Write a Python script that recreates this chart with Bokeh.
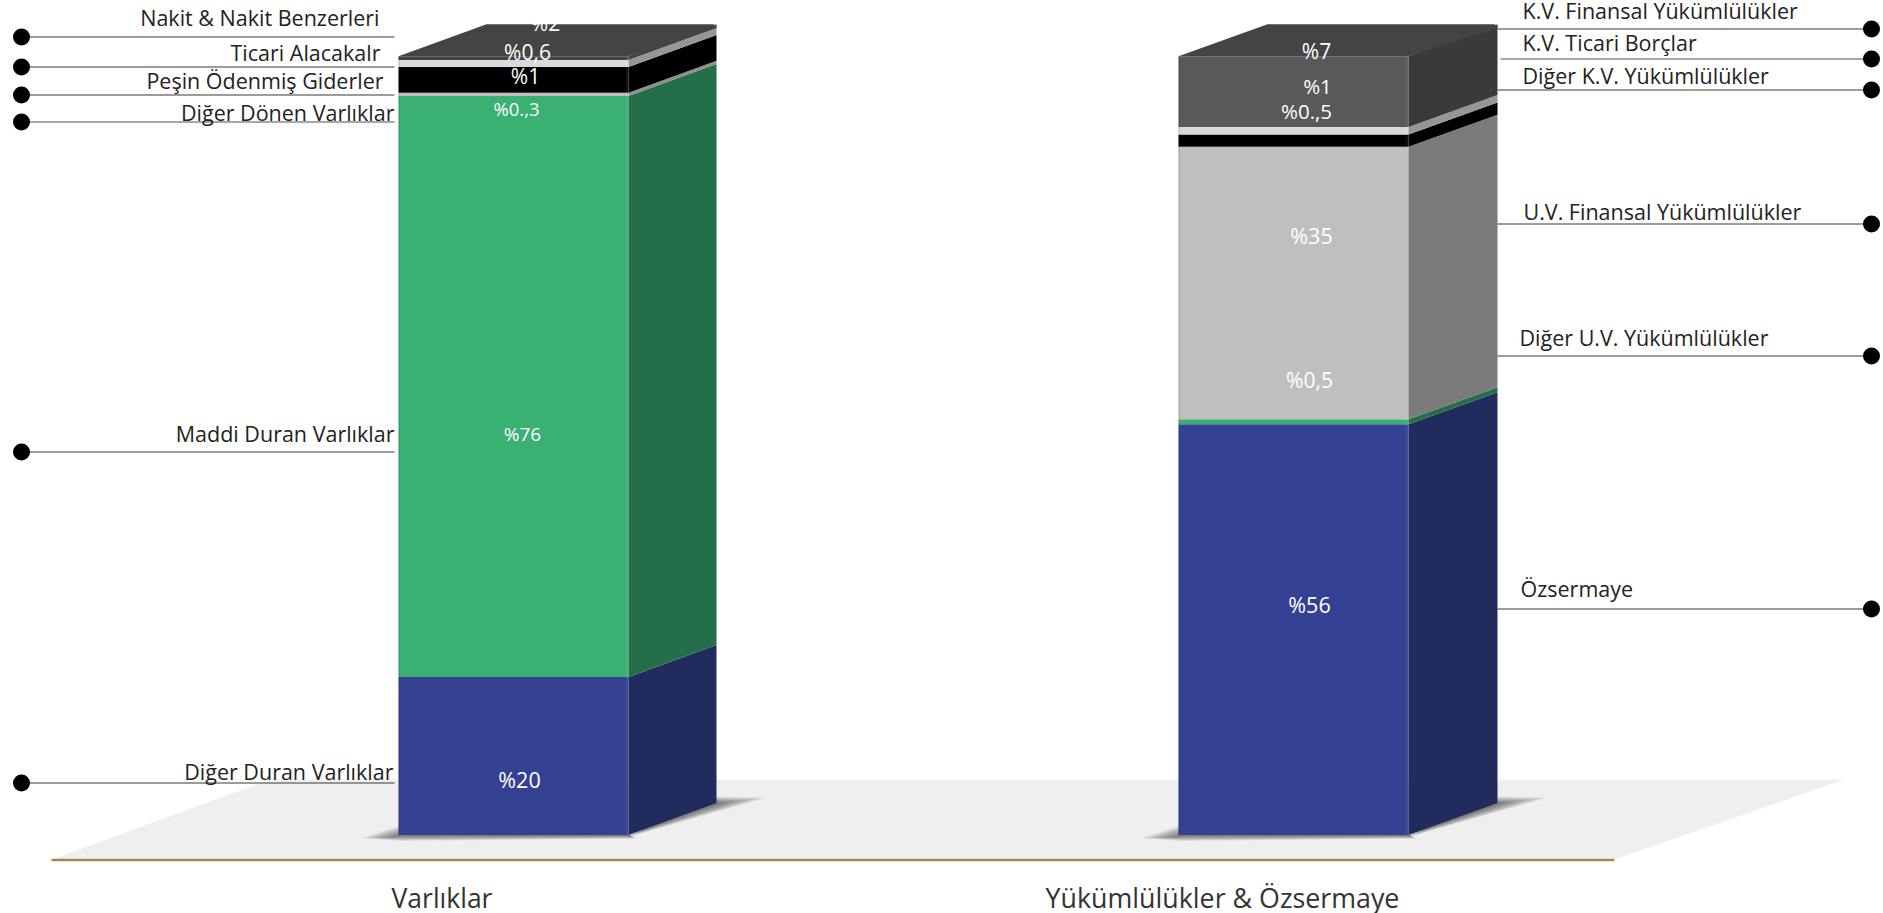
from bokeh.plotting import figure
from bokeh.models import Range1d
from bokeh.core.properties import value
from bokeh.embed import file_html
from bokeh.resources import INLINE
import numpy as np

# ---- data ----
categories = ["Varlıklar", "Yükümlülükler & Özsermaye"]

# drawn segment heights, bottom to top (percent of the column)
asset_names = ["Diğer Duran Varlıklar", "Maddi Duran Varlıklar", "Diğer Dönen Varlıklar",
               "Peşin Ödenmiş Giderler", "Ticari Alacakalr", "Nakit & Nakit Benzerleri"]
asset_heights = [20.3, 74.7, 0.4, 3.3, 0.9, 0.5]
asset_labels = ["%20", "%76", "%0.,3", "%1", "%0,6", "%2"]

liab_names = ["Özsermaye", "Diğer U.V. Yükümlülükler", "U.V. Finansal Yükümlülükler",
              "Diğer K.V. Yükümlülükler", "K.V. Ticari Borçlar", "K.V. Finansal Yükümlülükler"]
liab_heights = [52.8, 0.65, 35.0, 1.6, 0.95, 9.1]
liab_labels = ["%56", "%0,5", "%35", "%0.,5", "%1", "%7"]

# ---- styling / layout ----
W, H = 1883, 913
PX = 7.78
def Y(px):
    return 100 + (56.5 - px) / PX

asset_front = ["#344192", "#3ab073", "#bfbfbf", "#000000", "#d9d9d9", "#444444"]
asset_side = ["#222b5e", "#246f49", "#8f8f8f", "#000000", "#969696", "#444444"]
liab_front = ["#344192", "#3ab073", "#bfbfbf", "#000000", "#d9d9d9", "#595959"]
liab_side = ["#222b5e", "#246f49", "#7b7b7b", "#000000", "#969696", "#3a3a3a"]
TOP_FACE = "#444444"

p = figure(width=W, height=H, output_backend="svg", toolbar_location=None,
           x_range=Range1d(0, W), y_range=Range1d(Y(H), Y(0)),
           x_axis_location=None, y_axis_location=None, min_border=0,
           outline_line_color=None, background_fill_color="white", border_fill_color="white")
p.grid.visible = False
p.styles = {"position": "absolute", "left": "0px", "top": "0px"}

# floor
p.patch([51, 270, 1844, 1614], [Y(859), Y(779), Y(779), Y(859)], color="#efefef", line_color=None)
p.line([51, 1614], [Y(859.5), Y(859.5)], line_color="#a58a50", line_width=2.4)

def shadows(xl, xr, xb):
    n = 11
    for k in range(1, n + 1):
        f = (n + 1 - k) / n
        # left of the front face and the strip below it
        p.patch([xl + 2, xl - 38 * f, xl + 2, xr + 8 * f, xr + 1],
                [Y(835 - 10 * f), Y(837.5), Y(835 + 5.5 * f), Y(835 + 3 * f), Y(834)],
                color="black", alpha=0.055, line_color=None)
        # right of the side face
        p.patch([xb - 2, xb + 51 * f, xr - 2],
                [Y(803 - 7 * f), Y(803 - 6 * f), Y(835 + 2 * f)],
                color="black", alpha=0.055, line_color=None)

def column(xl, xr, xb, heights, front, side):
    dy = 32 / PX
    tops = np.cumsum(heights)
    bots = tops - np.array(heights)
    for b, t, fc, sc in zip(bots, tops, front, side):
        p.quad(left=xl, right=xr, bottom=b, top=t, color=fc, line_color=None)
        p.patch([xr, xb, xb, xr], [b, b + dy, t + dy, t], color=sc, line_color=None)
        # soft edges of the faces
        p.quad(left=xr - 3, right=xr, bottom=b, top=t, color="white", alpha=0.06, line_color=None)
        p.quad(left=xl, right=xl + 1.5, bottom=b, top=t, color="black", alpha=0.1, line_color=None)
    top = tops[-1]
    p.patch([xl, xl + (xb - xr), xb - 3, xb, xb, xr],
            [top, top + dy, top + dy, top + dy - 0.25, top + dy - 0.5, top],
            color=TOP_FACE, line_color=None)

bars = [(398, 628, 716, asset_heights, asset_front, asset_side),
        (1178, 1408, 1497, liab_heights, liab_front, liab_side)]
for xl, xr, xb, *_ in bars:
    shadows(xl, xr, xb)
for b in bars:
    column(*b)

FONT = value("Open Sans")
def put(x, ypx, txt, color, size, align):
    p.text(x=[x], y=[Y(ypx)], text=[txt], text_color=color, text_font=FONT,
           text_font_size=size, text_align=align, text_baseline="middle")

# value labels
asset_lab_pos = [(519, 779, "21.5px"), (522, 433, "19px"), (516, 108, "18.5px"),
                 (525, 75, "21px"), (527, 51, "21px"), (545, 22, "21px")]
liab_lab_pos = [(1309, 604, "21.5px"), (1309, 379, "21px"), (1311, 235, "21.5px"),
                (1306, 110, "20.5px"), (1317, 85.5, "20.5px"), (1316, 50.5, "21px")]
for lab, (x, y, s) in zip(asset_labels, asset_lab_pos):
    put(x, y, lab, "white", s, "center")
for lab, (x, y, s) in zip(liab_labels, liab_lab_pos):
    put(x, y, lab, "white", s, "center")

# leaders and names
DOT_L, DOT_R = 21, 1871
asset_lead = [782, 451, 121, 94, 66, 36]
asset_text = [(393, 771), (394, 433), (394, 112), (383, 79.5), (380, 51.5), (379, 17)]
for name, ly, (tx, ty) in zip(asset_names, asset_lead, asset_text):
    col, lw = ("#8a8a8a", 1.6) if ly == 121 else ("#3a3a3a", 1.2)
    p.line([DOT_L, 394], [Y(ly + .5)] * 2, line_color=col, line_width=lw)
    p.scatter([DOT_L], [Y(ly + .5)], size=17, color="black", line_color=None)
    put(tx, ty, name, "#222222", "21.5px", "right")

liab_lead = [608, 355, 223, 89, 58, 28]
liab_text = [(1520, 588), (1519, 337), (1523, 211), (1522, 74.5), (1522, 41.5), (1522, 10)]
for name, ly, (tx, ty) in zip(liab_names, liab_lead, liab_text):
    col, lw = ("#a6a6a6", 2) if ly == 58 else ("#3a3a3a", 1.2)
    x0 = 1500 if ly == 58 else 1497
    p.line([x0, DOT_R], [Y(ly + .5)] * 2, line_color=col, line_width=lw)
    p.scatter([DOT_R], [Y(ly + .5)], size=17, color="black", line_color=None)
    put(tx, ty, name, "#222222", "21.5px", "left")

# category labels
put(441.5, 897, categories[0], "#333333", "26.5px", "center")
put(1222, 897, categories[1], "#333333", "26.8px", "center")

open("out.html", "w").write(file_html(p, INLINE))
